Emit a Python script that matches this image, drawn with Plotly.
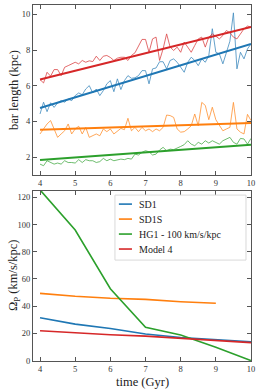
import plotly.graph_objects as go
from plotly.subplots import make_subplots

# ---------------- data ----------------
time_fine = [round(4.0 + 0.1 * i, 1) for i in range(61)]

bar_model4 = [6.35, 6.16, 6.76, 6.54, 6.91, 6.91, 6.57, 7.04, 7.13, 7.23,
              7.32, 7.23, 7.42, 7.32, 7.40, 7.36, 7.66, 7.42, 7.66, 7.70,
              7.59, 7.42, 7.55, 7.60, 7.60, 7.42, 7.70, 7.85, 8.26, 8.60,
              8.60, 7.88, 8.63, 8.73, 7.42, 8.07, 8.91, 8.17, 7.98, 8.17,
              7.88, 8.45, 8.17, 7.88, 8.26, 8.63, 8.73, 8.17, 8.73, 8.91,
              8.78, 8.63, 8.82, 9.10, 8.97, 8.73, 8.63, 8.91, 9.19, 9.35, 9.29]

bar_sd1 = [4.42, 5.08, 4.55, 5.05, 4.79, 5.04, 5.17, 5.08, 5.26, 5.17,
           5.45, 5.60, 5.50, 5.82, 6.01, 5.60, 5.82, 5.45, 5.73, 6.11,
           6.29, 5.67, 6.39, 5.79, 6.29, 6.57, 6.42, 6.45, 6.57, 6.85,
           6.85, 6.11, 6.95, 7.00, 7.35, 7.35, 6.95, 7.42, 7.51, 7.32,
           7.04, 6.76, 7.32, 7.60, 7.42, 7.13, 7.51, 7.32, 7.70, 9.20,
           7.88, 7.79, 7.23, 7.88, 8.50, 10.09, 6.95, 7.88, 7.51, 8.07, 8.35]

bar_sd1s = [3.30, 3.58, 3.86, 4.05, 3.58, 3.11, 3.30, 3.48, 3.86, 3.30,
            3.58, 3.73, 3.30, 3.67, 3.11, 3.20, 3.30, 3.20, 3.58, 3.43,
            3.58, 3.30, 3.48, 3.61, 3.54, 4.18, 3.48, 3.67, 3.43, 3.67,
            3.48, 3.58, 3.43, 3.58, 3.48, 3.67, 4.36, 4.33, 4.23, 3.58,
            3.40, 3.43, 3.58, 3.76, 4.42, 3.76, 5.07, 4.90, 4.10, 4.80,
            4.10, 3.76, 3.48, 3.58, 3.67, 5.07, 3.58, 3.40, 3.30, 4.40, 4.05]

bar_hg1 = [1.61, 1.52, 1.80, 1.70, 1.61, 1.67, 1.61, 1.80, 1.70, 1.70,
           1.67, 1.86, 1.70, 1.86, 1.80, 1.80, 1.70, 1.75, 1.93, 1.80,
           1.89, 1.80, 1.86, 1.89, 1.86, 1.93, 1.89, 2.17, 2.12, 2.27,
           2.36, 2.30, 2.12, 2.17, 2.40, 2.55, 2.36, 2.45, 2.42, 2.49,
           2.60, 2.70, 2.92, 2.73, 2.64, 2.83, 2.73, 2.92, 2.79, 2.92,
           2.83, 2.73, 2.92, 3.02, 3.11, 2.83, 2.73, 3.05, 3.02, 2.73, 3.05]

fit_x = [4.0, 10.0]
fit_model4 = [6.35, 9.30]
fit_sd1 = [4.76, 8.35]
fit_sd1s = [3.54, 3.92]
fit_hg1 = [1.84, 2.70]

time_coarse = [4, 5, 6, 7, 8, 9, 10]
omega_sd1 = [31.5, 26.8, 23.6, 19.5, 17.0, 15.3, 13.9]
time_sd1s = [4, 5, 6, 7, 8, 9]
omega_sd1s = [49.4, 47.3, 45.8, 45.0, 43.3, 42.1]
omega_hg1 = [125.5, 96.0, 52.8, 24.5, 18.8, 9.8, 0.0]
omega_model4 = [21.9, 20.2, 19.0, 18.0, 16.3, 14.6, 13.2]

x_ticks = [4, 5, 6, 7, 8, 9, 10]
bar_ticks = [2, 4, 6, 8, 10]
omega_ticks = [0, 20, 40, 60, 80, 100, 120]
labels = ["SD1", "SD1S", "HG1 - 100 km/s/kpc", "Model 4"]
colors = ["#1f77b4", "#ff7f0e", "#2ca02c", "#d62728"]

FONT = "Liberation Serif"
AXC = "#555555"
TXT = "#222222"

fig = make_subplots(rows=2, cols=1, vertical_spacing=0.0)

# top panel: thin noisy + thick fits
for series, fit, c in [(bar_sd1, fit_sd1, colors[0]), (bar_sd1s, fit_sd1s, colors[1]),
                       (bar_hg1, fit_hg1, colors[2]), (bar_model4, fit_model4, colors[3])]:
    fig.add_trace(go.Scatter(x=time_fine, y=series, mode="lines",
                             line=dict(color=c, width=0.8), opacity=0.85,
                             showlegend=False), row=1, col=1)
    fig.add_trace(go.Scatter(x=fit_x, y=fit, mode="lines",
                             line=dict(color=c, width=2), showlegend=False),
                  row=1, col=1)

# bottom panel
bottom = [(time_coarse, omega_sd1), (time_sd1s, omega_sd1s),
          (time_coarse, omega_hg1), (time_coarse, omega_model4)]
for (xs, ys), name, c in zip(bottom, labels, colors):
    fig.add_trace(go.Scatter(x=xs, y=ys, mode="lines", name=name, showlegend=False,
                             line=dict(color=c, width=1.6)), row=2, col=1)

# manual legend (matplotlib-like compact spacing)
fig.add_shape(type="rect", xref="x2 domain", yref="y2 domain",
              x0=0.376, x1=0.977, y0=0.593, y1=0.975,
              line=dict(color="#d9d9d9", width=1), fillcolor="rgba(255,255,255,0.85)",
              layer="above")
row_y = [0.922, 0.834, 0.746, 0.658]
for name, c, yy in zip(labels, colors, row_y):
    fig.add_shape(type="line", xref="x2 domain", yref="y2 domain",
                  x0=0.394, x1=0.454, y0=yy, y1=yy,
                  line=dict(color=c, width=1.6), layer="above")
    fig.add_annotation(xref="x2 domain", yref="y2 domain", x=0.477, y=yy,
                       text=name, showarrow=False, xanchor="left", yanchor="middle",
                       font=dict(family=FONT, size=10, color=TXT))

# axis titles as text
fig.add_annotation(xref="x2 domain", yref="paper", x=0.5, y=-0.058,
                   text="time (Gyr)", showarrow=False, xanchor="center", yanchor="middle",
                   font=dict(family=FONT, size=12.5, color=TXT))
fig.add_annotation(xref="paper", yref="y domain", x=-0.087, y=0.5, textangle=-90,
                   text="bar length (kpc)", showarrow=False, xanchor="center", yanchor="middle",
                   font=dict(family=FONT, size=12.5, color=TXT))
fig.add_annotation(xref="paper", yref="y2 domain", x=-0.087, y=0.5, textangle=-90,
                   text="Ω<sub>P</sub> (km/s/kpc)", showarrow=False, xanchor="center",
                   yanchor="middle", font=dict(family=FONT, size=12.5, color=TXT))

axis_common = dict(showline=True, linecolor=AXC, linewidth=1, mirror="ticks",
                   ticks="inside", ticklen=4, tickcolor=AXC, tickwidth=1,
                   showgrid=False, zeroline=False, automargin=False,
                   tickfont=dict(family=FONT, size=8.5, color="#333333"))

fig.update_layout(
    width=260, height=390,
    margin=dict(l=33, r=9, t=5, b=29),
    plot_bgcolor="white", paper_bgcolor="white",
    font=dict(family=FONT, color=TXT),
    showlegend=False,
)

fig.update_xaxes(axis_common)
fig.update_yaxes(axis_common)

fig.update_xaxes(range=[3.8, 10.0], tickvals=x_ticks, row=1, col=1)
fig.update_xaxes(range=[3.8, 10.0], tickvals=x_ticks, row=2, col=1)
fig.update_yaxes(range=[1.0, 10.53], tickvals=bar_ticks, row=1, col=1,
                 domain=[0.5225, 1.0])
fig.update_yaxes(range=[-0.3, 124.8], tickvals=omega_ticks, row=2, col=1,
                 domain=[0.0, 0.478])

fig.write_html("out.html", config={"displayModeBar": False},
               post_script="document.body.style.margin='0px';")
